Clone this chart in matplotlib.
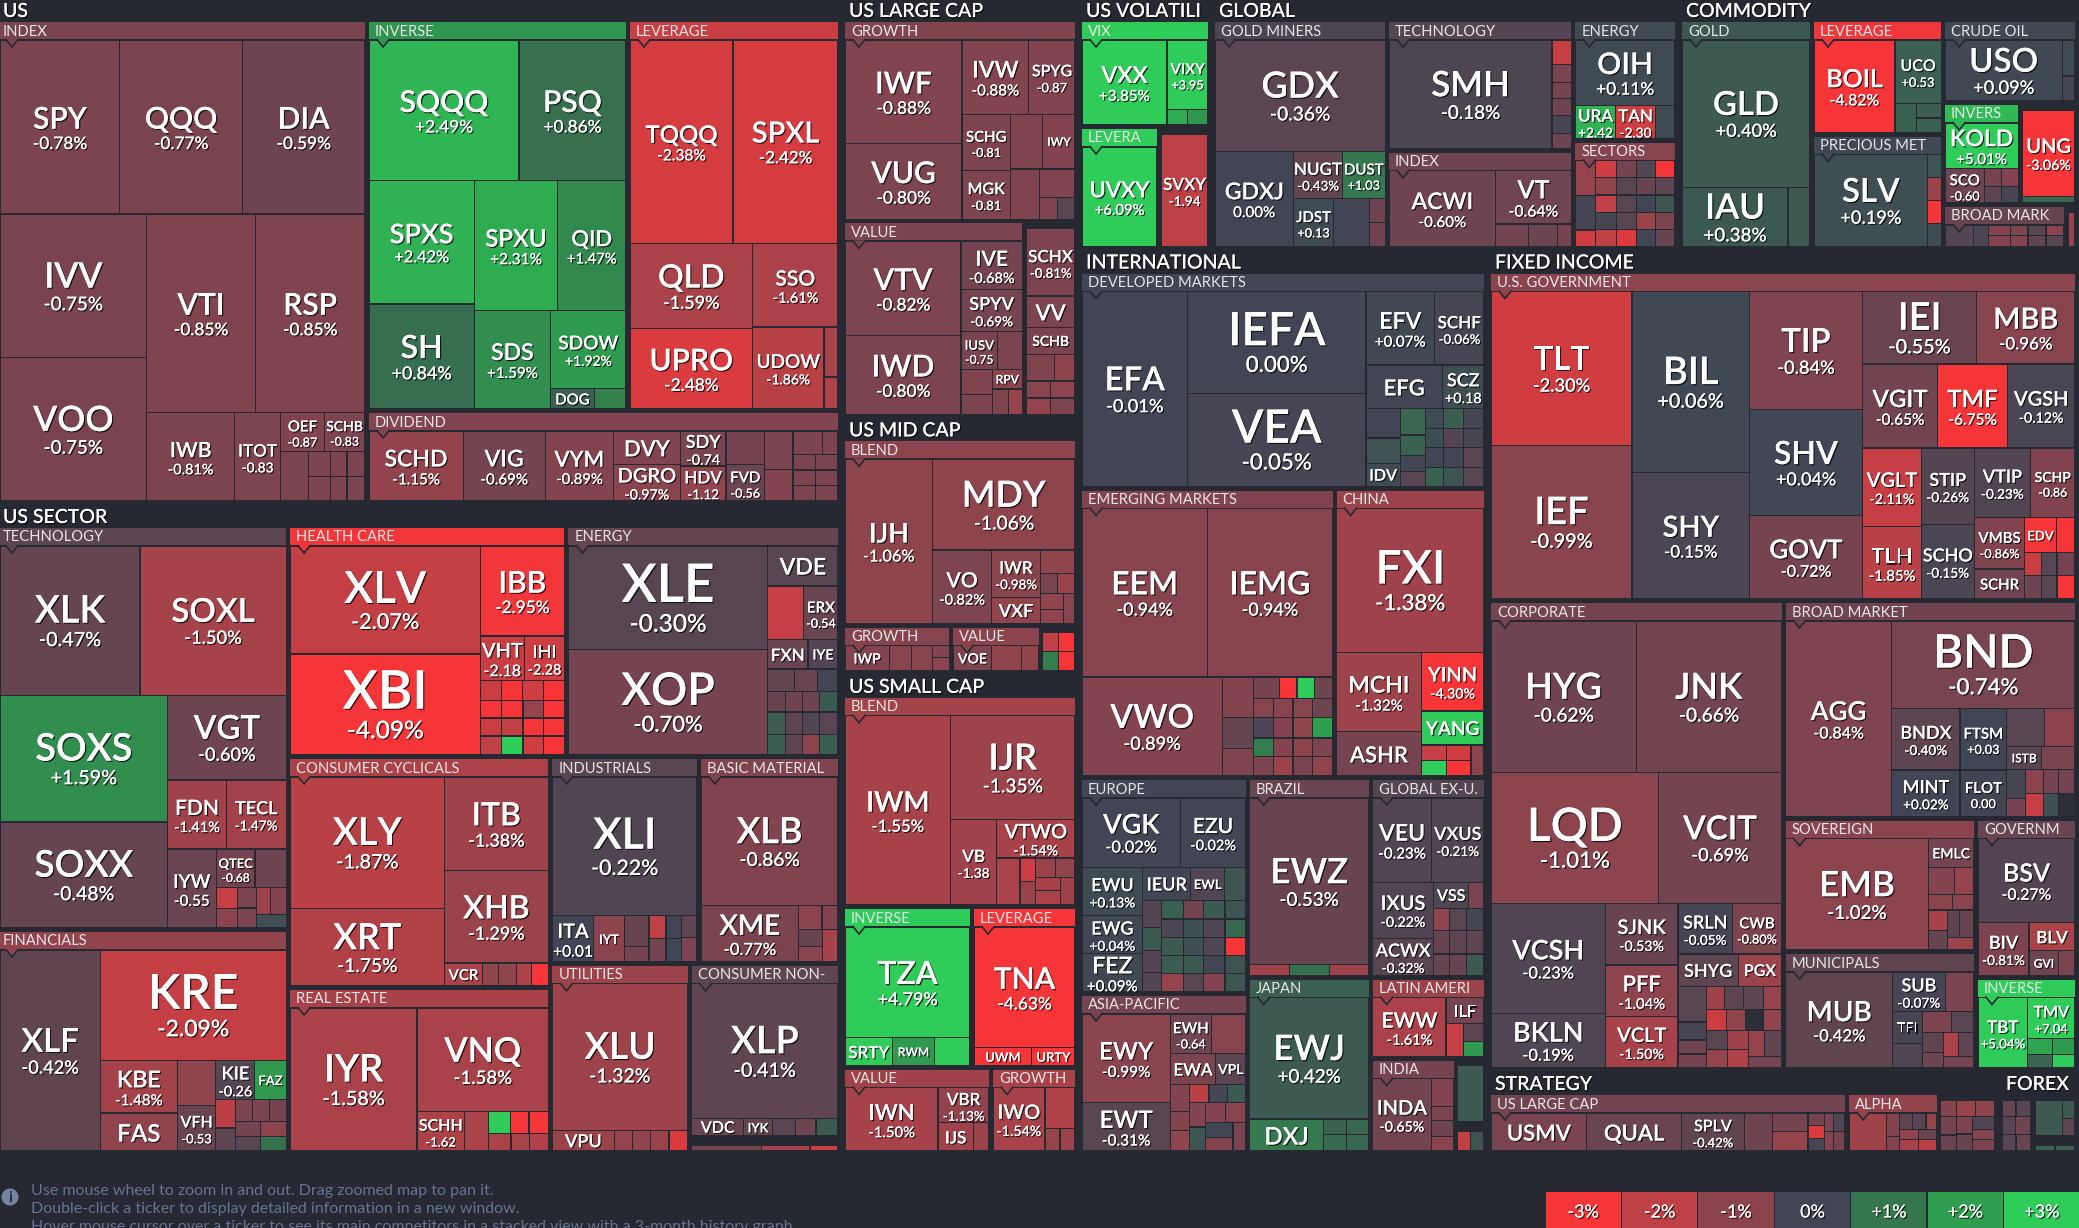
import matplotlib
matplotlib.use('Agg')
import matplotlib.pyplot as plt
import matplotlib.patheffects as pe
from matplotlib.patches import Rectangle, Polygon, Circle
import numpy as np

nan = float('nan')

# ---- US ----
us_index_tickers = ['SPY','QQQ','DIA','IVV','VOO','VTI','RSP','IWB','ITOT','OEF','SCHB','','','','','','','']
us_index_changes = [-.78,-.77,-.59,-.75,-.75,-.85,-.85,-.81,-.83,-.87,-.83,-.8,-.8,-.8,-.8,-.8,-.8,-.8]
us_index_sizes = [209,214,214,211,211,216,218,78,41,17,16,14,5.5,5.5,4,4.5,4,4.5]
us_index_strips = 'r3 c2 r2 c1 c1 r2 c1 c2 r2 r2'

us_inverse_tickers = ['SQQQ','PSQ','SPXS','SH','SPXU','QID','SDS','SDOW','DOG','']
us_inverse_changes = [2.49,.86,2.42,.84,2.31,1.47,1.59,1.92,.55,1.3]
us_inverse_sizes = [210,150,129,110,107,88,75,59,8.8,6.4]
us_inverse_strips = 'r2 c2 r2 c1 r1 r2'

us_leverage_tickers = ['TQQQ','SPXL','QLD','UPRO','SSO','UDOW','','']
us_leverage_changes = [-2.38,-2.42,-1.59,-2.48,-1.61,-1.86,-1.5,-1.7]
us_leverage_sizes = [208,212,104,98,71,58,7,4.5]
us_leverage_strips = 'r2 c2 r1 c1 r1 r1'

us_dividend_tickers = ['SCHD','VIG','VYM','DVY','DGRO','SDY','HDV','','FVD','','','','','','','','','','']
us_dividend_changes = [-1.15,-.69,-.89,-.9,-.97,-.74,-1.12,-.7,-.56,-.8,-.9,-.8,-.8,-.8,-.8,-.8,-.8,-.8,-.8]
us_dividend_sizes = [66,57.5,48,22.4,24.4,16,16,13,14,11,9,7,3.6,3.5,3.5,3.5,3.5,3.5,3.5]
us_dividend_strips = 'c1 c1 c1 c2 c2 c2 c2 r2 r2 r2 r2'

# ---- US SECTOR ----
tech_tickers = ['XLK','SOXL','SOXS','SOXX','VGT','FDN','TECL','IYW','QTEC','','','','','','','','']
tech_changes = [-.47,-1.5,1.59,-.48,-.6,-1.41,-1.47,-.55,-.68,-.6,-2.1,-1.0,-.8,-.8,-1.3,-.9,.2]
tech_sizes = [207,216,211,176,99.6,40,41,38,15,12,4.4,4,3.8,3.8,3.8,4,4]
tech_strips = 'r2 c2 r1 r2 c1 r2 c2 c2 r2 r1'

fin_tickers = ['XLF','KRE','KBE','FAS','','VFH','KIE','FAZ','','','','','','','','','']
fin_changes = [-.42,-2.09,-1.48,-1.1,-1.1,-.53,-.26,1.9,-1.9,-.4,-.8,-.8,-.7,-.7,-1.0,-.3,.9]
fin_sizes = [200,204,40,29,17,17.4,15,12,5.5,4.4,3.7,3.7,3.7,3.9,3.9,3.6,3.6]
fin_strips = 'c1 r1 c2 c2 r2 c2 r3 r2 r2'

health_tickers = ['XLV','XBI','IBB','VHT','IHI','','','','','','','','','','','','','','','','']
health_changes = [-2.07,-4.09,-2.95,-2.18,-2.28,-2.2,-3,-2.3,-3.2,-3.2,-3,-1.2,-3.2,-2.2,-2,-3,-3,-2,3.5,-2.3,-3.2]
health_sizes = [203,190,75,19.4,17.6,4.2,4.2,4,4.2,3.7,3.7,3.5,3.7,3.8,3.8,3.6,3.8,4,4,3.8,4]
health_strips = 'c2 r1 r2 r4 r4 r4 r4'

energy_tickers = ['XLE','XOP','VDE','','ERX','FXN','IYE','','','','','','','','','','','','','','','']
energy_changes = [-.3,-.7,-.3,-2.1,-.54,-.55,-.25,-.45,-.55,0,-.5,-.6,-.6,.4,.45,-.4,-.2,-.3,.5,-.4,-1.0,.5]
energy_sizes = [202,205,27.5,19,18,11.5,8.6,5.9,5,4.4,3.6,3.4,3.4,3.8,3.9,3.7,3.7,4.1,3.6,3.4,3.4,3.8]
energy_strips = 'c2 r1 r2 r2 r3 r4 r4 r4'

cyc_tickers = ['XLY','XRT','ITB','XHB','VCR','','','','']
cyc_changes = [-1.87,-1.75,-1.38,-1.29,-1.6,-1.1,-1.1,-1.7,-3]
cyc_sizes = [202,119,97,96,8.7,3.6,4.1,3.6,3.8]
cyc_strips = 'c2 r1 r1 r5'

estate_tickers = ['IYR','VNQ','SCHH','','','','','','','']
estate_changes = [-1.58,-1.58,-1.62,-1.6,3.5,-3,-3,-1.6,-1.6,-1.7]
estate_sizes = [181,136,18.5,9.4,4.8,4,4.2,4,3.2,3.4]
estate_strips = 'c1 r1 c1 c1 r3 r3'

ind_tickers = ['XLI','ITA','IYT','','','','','','','','']
ind_changes = [-.22,.01,-1.0,-.5,-.7,-2.0,-.7,0,0,-.4,-.8]
ind_sizes = [198,18.7,13.9,7.4,3.8,3.9,3.9,3.5,3.5,3.3,3.7]
ind_strips = 'r1 c1 c1 c2 c2 c2 c2'

mat_tickers = ['XLB','XME','','','','','']
mat_changes = [-.86,-.77,-1.0,-.9,-.5,-1.0,-1.5]
mat_sizes = [175,55,5.5,3.8,4.2,3.6,5]
mat_strips = 'r1 c1 r2 c2 c1'

util_tickers = ['XLU','VPU','','','','']
util_changes = [-1.32,-1.3,-1.2,-1.1,-1.3,-2.5]
util_sizes = [197,12.6,3.8,3.6,3.8,3.8]
util_strips = 'r1 r5'

staples_tickers = ['XLP','VDC','IYK','','','']
staples_changes = [-.41,-.5,-.45,-.3,-.6,.4]
staples_sizes = [196,9,4.9,3.96,3.6,3.8]
staples_strips = 'r1 r5'

comm_tickers = ['','','']
comm_changes = [-.7,-1.5,-2.2]
comm_sizes = [4.5,3.1,1.8]
comm_strips = 'r3'

# ---- US LARGE CAP ----
lg_growth_tickers = ['IWF','VUG','IVW','SPYG','SCHG','MGK','','IWY','','','','']
lg_growth_changes = [-.88,-.8,-.88,-.87,-.81,-.81,-.85,-.9,-.85,-.85,-.85,-.3]
lg_growth_sizes = [120,88,49,34,26.9,23.5,17.6,17.6,14.8,10,3.8,3.8]
lg_growth_strips = 'c2 r2 c2 r2 c1 r1 r2'

lg_value_tickers = ['VTV','IWD','IVE','SPYV','IUSV','','','','RPV','','']
lg_value_changes = [-.82,-.8,-.68,-.69,-.75,-.8,-.85,-.8,-1.0,-.85,-1.2]
lg_value_sizes = [108,91,29,25.4,13.7,9.3,7.7,6.2,5.9,4.2,3.4]
lg_value_strips = 'c2 r1 r1 r2 c2 r1 r2'

lg_other_tickers = ['SCHX','VV','SCHB','','','','','','']
lg_other_changes = [-.81,-.8,-.8,-.85,-1.0,-.95,-1.05,-1.2,-.85]
lg_other_sizes = [32,15,12.6,7.3,5.4,4,4,3.9,3.9]
lg_other_strips = 'r1 r1 r1 r2 r2 r2'

# ---- US MID CAP ----
mid_blend_tickers = ['IJH','MDY','VO','IWR','VXF','','','','','','']
mid_blend_changes = [-1.06,-1.06,-.82,-.98,-1.1,-1.1,-.75,-1.25,-1.1,-1.1,-.95]
mid_blend_sizes = [143,128,43,23,13,8,3.4,3.4,3.7,3.4,3.4]
mid_blend_strips = 'c1 r1 c1 c2 r1 r2 c2 c1'

mid_growth_tickers = ['IWP','','','','']
mid_growth_changes = [-.9,-.95,-.95,-.9,-1.0]
mid_growth_sizes = [10.6,5.3,5,1.9,2.2]
mid_growth_strips = 'c1 c1 c1 r1 r1'

mid_value_tickers = ['VOE','','']
mid_value_changes = [-.85,-1.1,-1.15]
mid_value_sizes = [9.5,7.3,4.3]
mid_value_strips = 'c1 c1 c1'

mid_other_tickers = ['','','','']
mid_other_changes = [-2.0,-3.0,1.2,-3.0]
mid_other_sizes = [3,3,3,3]
mid_other_strips = 'r2 r2'

# ---- US SMALL CAP ----
sm_blend_tickers = ['IWM','IJR','VB','VTWO','','','','','','','','']
sm_blend_changes = [-1.55,-1.35,-1.38,-1.54,-1.6,-2.3,-1.3,-1.3,-1.1,-1.5,-1.6,-1.4]
sm_blend_sizes = [197,127,39,30,10.8,3.5,3.6,3.8,3.8,3.4,3.6,3.9]
sm_blend_strips = 'c1 r1 c1 r1 c1 c2 r2 c2 c1'

sm_inverse_tickers = ['TZA','SRTY','RWM','']
sm_inverse_changes = [4.79,3.2,1.9,3.4]
sm_inverse_sizes = [137.5,13,11.5,9.8]
sm_inverse_strips = 'r1 r3'

sm_leverage_tickers = ['TNA','UWM','URTY']
sm_leverage_changes = [-4.63,-3.2,-3.1]
sm_leverage_sizes = [123,10.3,7.7]
sm_leverage_strips = 'r1 r2'

sm_value_tickers = ['IWN','VBR','IJS','']
sm_value_changes = [-1.5,-1.13,-1.4,-1.3]
sm_value_sizes = [59,18,10,4.4]
sm_value_strips = 'c1 r1 c1 c1'

sm_growth_tickers = ['IWO','','','']
sm_growth_changes = [-1.54,-1.7,-1.2,-1.3]
sm_growth_sizes = [33,12.4,3.4,3.4]
sm_growth_strips = 'c1 r1 r2'

# ---- US VOLATILI ----
vix_tickers = ['VXX','VIXY','','']
vix_changes = [3.85,3.95,2.3,1.8]
vix_sizes = [71,28,3.2,3.2]
vix_strips = 'c1 r1 r2'

# ---- GLOBAL ----
miners_tickers = ['GDX','GDXJ','NUGT','DUST','JDST','','','']
miners_changes = [-.36,0,-.43,1.03,.13,-.02,-.6,-.6]
miners_sizes = [187,74,23,20,19,17,3.7,3.7]
miners_strips = 'r1 c1 r2 c1 c1 r1 r1'

gl_tech_tickers = ['SMH','','','','','','']
gl_tech_changes = [-.18,-2.1,-.75,-.7,-.6,-.05,-.6]
gl_tech_sizes = [176,4.7,3.4,3.2,3.2,3.4,3]
gl_tech_strips = 'c1 r1 r1 r1 r1 r1 r1'

gl_index_tickers = ['ACWI','VT','','','']
gl_index_changes = [-.6,-.64,-.65,-.55,-.7]
gl_index_sizes = [80,40,7.4,6.4,3.2]
gl_index_strips = 'c1 r1 r3'

gl_energy_tickers = ['OIH','URA','TAN','']
gl_energy_changes = [.11,2.42,-2.3,.1]
gl_energy_sizes = [63,13,13,6.3]
gl_energy_strips = 'r1 r3'

gl_sectors_tickers = [''] * 23
gl_sectors_changes = [-1.2,-.1,-2.3,-2.3,-.7,-.2,-3,-1.1,-.3,-.5,-.4,-2,-.3,0,.3,-.1,-.3,-1.3,-.8,-2,-2.5,0,-.5]
gl_sectors_sizes = [7.5,7.3,3.5,3.8,3.6,3.4,3.6,3.8,3.6,3.4,3.6,3.8,3.6,3.4,3.6,3.8,3.6,3.4,3.6,3.8,3.6,3.4,3.6]
gl_sectors_strips = 'c3 r4 r4 r4 r4 r4'

# ---- COMMODITY ----
gold_tickers = ['GLD','IAU','']
gold_changes = [.4,.38,.4]
gold_sizes = [188,62.5,13]
gold_strips = 'r1 c1 c1'

cm_lev_tickers = ['BOIL','UCO','','','']
cm_lev_changes = [-4.82,.53,.55,.5,.55]
cm_lev_sizes = [74,29,6.3,3.5,3.5]
cm_lev_strips = 'c1 r1 c1 r1 r1'

metals_tickers = ['SLV','','','','']
metals_changes = [.19,.25,-1.3,-3.0,.1]
metals_sizes = [104,3.1,3.1,3.1,3.1]
metals_strips = 'c1 r1 r1 r1 r1'

crude_tickers = ['USO','','']
crude_changes = [.09,.15,-.1]
crude_sizes = [71,4.6,3.2]
crude_strips = 'c1 r1 r1'

cm_inv_tickers = ['KOLD','SCO','','','','']
cm_inv_changes = [5.01,-.6,-.7,-.9,-.4,-.1]
cm_inv_sizes = [32,13,2.9,2.9,2.7,2.7]
cm_inv_strips = 'r1 c1 r2 r2'

ung_tickers = ['UNG','']
ung_changes = [-3.06,.7]
ung_sizes = [45.6,3.4]
ung_strips = 'r1 r1'

broad_cm_tickers = [''] * 10
broad_cm_changes = [-.25,-.15,-.9,-.8,-.3,-1.0,-.9,-.9,-.4,-.3]
broad_cm_sizes = [5,2.8,1.9,1.6,1.6,1.6,1.9,1.6,1.6,1.6]
broad_cm_strips = 'c1 c1 r4 r4'

sliver_tickers = ['']
sliver_changes = [-1.2]
sliver_sizes = [1]
sliver_strips = 'r1'

# ---- INTERNATIONAL ----
dev_tickers = ['EFA','IEFA','VEA','EFV','SCHF','EFG','SCZ','','','IDV'] + [''] * 16
dev_changes = [-.01,0,-.05,.07,-.06,0,.18,-.02,.25,.1,.7,.6,0,-.3,.15,.5,-.1,.15,-.25,-.05,0,0,-.3,.6,.3,-.3]
dev_sizes = [203.5,179.5,165,50,36,33,18,10,8.8,7.8,6.5,5,4,3.7,3.6,4,4,3.4,3.8,3.8,3.6,4,4,3.4,3.8,3.8]
dev_strips = 'c1 c2 r2 r2 c3 c4 r3 r3 r3 r3'

em_tickers = ['EEM','IEMG','VWO'] + [''] * 23
em_changes = [-.94,-.94,-.89,-.9,-.5,-.85,-.7,-3,3.3,-.6,-.95,-.95,-.95,-.6,-.15,-.9,-1.1,2,1.2,-.9,-1.0,-.8,-.8,-1.3,-.75,-1.1]
em_sizes = [207.5,207.5,136.4,12.4,9.6,8.4,5.5,3.8,3.8,3.8,3.6,3.6,3.6,3.6,4,4,4,4,3.6,3.6,3.6,3.6,3.8,3.8,3.8,3.8]
em_strips = 'r2 c1 c3 r4 r4 r4 r4 r4'

china_tickers = ['FXI','MCHI','ASHR','YINN','YANG','','','','','']
china_changes = [-1.38,-1.32,-.7,-4.3,3.3,-2.1,3.2,-2.3,-3.1,-1.0]
china_sizes = [209,66,37,36,21,3.9,3.9,3.7,3.7,4]
china_strips = 'r1 c2 r1 r1 c2 c2 c1'

europe_tickers = ['VGK','EZU','EWU','EWG','FEZ','IEUR','EWL',''] + [''] * 24
europe_changes = [-.02,-.02,.13,.04,.09,0,-.2,.35,-.25,.4,-.25,-.25,.55,-.65,.4,.3,-.15,.2,-.2,.7,.4,.2,-.2,-3.0,.45,.4,-.02,.3,-1.2,-.3,-.9,.35]
europe_sizes = [64.7,43,28,22,22,15.4,11,6.7,4.9,4.1,4,3.6] + [3.8,3.4,3.8,3.6] * 5
europe_strips = 'r2 c3 r3 c4 r4 r4 r4 r4 r4'

asia_tickers = ['EWY','EWT','EWH','','EWA','VPL'] + [''] * 13
asia_changes = [-.99,-.31,-.64,-.95,-.8,-.35,-.9,-.9,-1.1,-1.9,-.05,.4,-.9,.35,-.9,-.95,.05,-.9,-.8]
asia_sizes = [75,41,15.6,13,13.8,9,4.9,3.6,3.8,3.4,3.2,3.2,3.7,3.7,3.8,3.8,3.9,3.6,3.5]
asia_strips = 'c2 r2 r2 c3 r3 c2 r2 c2 c1'

brazil_tickers = ['EWZ','','','']
brazil_changes = [-.53,-1.4,.9,-1.4]
brazil_sizes = [199,4.3,4.3,4.2]
brazil_strips = 'r1 r3'

japan_tickers = ['EWJ','DXJ','','','','']
japan_changes = [.42,1.1,.6,.75,.7,.7]
japan_sizes = [143.5,23.4,3.7,3.8,3.4,3.6]
japan_strips = 'r1 c1 c2 c2'

exus_tickers = ['VEU','VXUS','IXUS','ACWX','VSS',''] + [''] * 9
exus_changes = [-.23,-.21,-.22,-.32,-.2,-.75,-1.1,-.3,-.1,-.5,-.4,-.4,-.5,-.5,.4]
exus_sizes = [48,43,33,22,9,3.9,3.5,3.7,3.7,3.7,3.9,3.9,3.4,3.6,3.6]
exus_strips = 'r2 c2 r2 r3 r3 r3'

latin_tickers = ['EWW','ILF','','','']
latin_changes = [-1.61,-.7,-2.1,-.4,1.9]
latin_sizes = [41.5,9.5,5.6,3.4,3]
latin_strips = 'c1 r1 c1 r1 r1'

india_tickers = ['INDA','','','','']
india_changes = [-.65,-.9,-.8,-.6,-1.0]
india_sizes = [39.6,5.7,3,3.3,3]
india_strips = 'c1 r1 r1 r1 r1'

intl_a_tickers = ['']
intl_a_changes = [.4]
intl_a_sizes = [1]
intl_a_strips = 'r1'

intl_b_tickers = ['','']
intl_b_changes = [-2,.3]
intl_b_sizes = [1,1]
intl_b_strips = 'r2'

# ---- FIXED INCOME ----
gov_tickers = ['TLT','IEF','BIL','SHY','TIP','SHV','GOVT','IEI','MBB','VGIT','TMF','VGSH','VGLT','TLH','STIP','SCHO','VTIP','SCHP','VMBS','SCHR','EDV'] + [''] * 7
gov_changes = [-2.3,-.99,.06,-.15,-.84,.04,-.72,-.55,-.96,-.65,-6.75,-.12,-2.11,-1.85,-.26,-.15,-.23,-.86,-.86,-.6,-4,-3.5,-2.2,-.3,-.7,-.6,-.3,-3.5]
gov_sizes = [214,214,210,146.5,132,118,93.5,81.6,70.3,62,58,56,45.5,42,40,39,38.8,30.6,25.5,15,10.9,6.5,3.9,3.5,4.1,3.9,3.5,4.1]
gov_strips = 'c2 c2 c3 r2 r3 c2 c2 r2 c2 r2 r3 r3'

corp_tickers = ['HYG','JNK','LQD','VCIT','VCSH','BKLN','SJNK','PFF','VCLT','SRLN','CWB','SHYG','PGX'] + [''] * 19
corp_changes = [-.62,-.66,-1.01,-.69,-.23,-.19,-.53,-1.04,-1.5,-.05,-.8,-.4,-1.3,-.3,-.1,-.6,-.7,-1.4,-.4,-.4,-1.2,-2.2,-1.1,nan,-1.1,-.3,-1.2,-1.4,-1.7,-1.2,-.4,-.7]
corp_sizes = [217,217,217,159,124,61.6,44,37,36.9,27,24.5,19.5,14,9.8,5,3.9,3.9,4.1,4.4,4.4,4.1,4.2,3.8,3.6,3.8,4,4,3.9,3.9,4.1,4.4,3.6]
corp_strips = 'r2 r2 c2 c3 r2 r2 c4 r4 r4 c2 c2 r2 r1'

bond_tickers = ['AGG','BND','BNDX','MINT','FTSM','FLOT','','','ISTB'] + [''] * 9
bond_changes = [-.84,-.74,-.4,.02,.03,0,-.3,-1,-.3,-.8,-.1,-.7,-1,-.7,-.7,-2.1,.2,nan]
bond_sizes = [205,157.5,41.5,31.5,28.5,21.6,14,11.5,8,7.8,5.3,3.4,4.1,3.6,3.8,4.1,3.6,3.8]
bond_strips = 'c1 r1 c2 c2 r2 r2 c2 r3 r3'

sov_tickers = ['EMB','EMLC'] + [''] * 9
sov_changes = [-1.02,-.7,-.9,-1.2,-1,-1,-1.5,-.5,-.4,-.5,-1.3]
sov_sizes = [157,13,6.8,5.2,3.6,3.3,3.8,3.6,3.4,3.9,3.3]
sov_strips = 'c1 r1 r2 r2 c2 r2 r1'

muni_tickers = ['MUB','SUB','','TFI'] + [''] * 8
muni_changes = [-.42,-.07,-.8,-.1,-.2,-.8,-.3,-.4,-.6,-1.6,-.4,-.7]
muni_sizes = [100,20,11,9.3,7,6,4.6,4.2,3.1,3.6,3.6,3.4]
muni_strips = 'c1 r2 c2 r2 c2 r2 r1'

govm_tickers = ['BSV','BIV','BLV','GVI','']
govm_changes = [-.27,-.81,-1.6,-.6,-.8]
govm_sizes = [81,27,13,7.3,4]
govm_strips = 'r1 c1 r1 r2'

fi_inv_tickers = ['TBT','TMV','','','','']
fi_inv_changes = [5.04,7.04,2.1,1.9,.65,3.4]
fi_inv_sizes = [34,19,4,3.5,3.2,2.9]
fi_inv_strips = 'c1 r1 r2 r2'

# ---- STRATEGY ----
st_large_tickers = ['USMV','QUAL','SPLV'] + [''] * 10
st_large_changes = [-.75,-.55,-.42,-.6,-.7,-1.2,-.7,-2.5,-.1,-.8,-.9,-.2,-.7]
st_large_sizes = [34.4,34,22.6,10,6.3,6.6,1.9,2,2,1.6,1.7,2,2.1]
st_large_strips = 'c1 c1 c1 c1 c2 c3 c2 c2'

st_alpha_tickers = [''] * 10
st_alpha_changes = [-1.4,-.9,-.9,-.4,-.3,-1.2,-1.1,-.5,-1.5,-1.9]
st_alpha_sizes = [13,2.7,1.7,2,2,1.6,1.7,1.7,1.9,1.9]
st_alpha_strips = 'c1 c2 r3 r2 r2'

st_other_tickers = [''] * 10
st_other_changes = [-.9,-.7,-.55,-1.2,-1.0,-.8,-.5,-.2,-.9,-.8]
st_other_sizes = [2.4,2.6,2.3,2.9,2.9,2.7,2.6,2.7,2.1,2.3]
st_other_strips = 'c3 r2 c2 r1 r1 r1'

# ---- FOREX ----
fx_a_tickers = [''] * 6
fx_a_changes = [-.5,-.3,-.3,-.6,-.3,-.5]
fx_a_sizes = [1.95,2.1,2.2,2.4,1.95,2.1]
fx_a_strips = 'r2 r2 r2'

fx_b_tickers = ['','','']
fx_b_changes = [.4,.4,-.4]
fx_b_sizes = [9.1,2.2,2.1]
fx_b_strips = 'c1 r1 r1'

fx_c_tickers = ['','']
fx_c_changes = [.55,.55]
fx_c_sizes = [1,1]
fx_c_strips = 'r2'

# tickers that show no number at all, and ones that show the number without %
label_only = {'DOG','IWY','RPV','VV','VXF','IWP','VOE','SRTY','RWM','UWM','URTY','IJS','FAS','FAZ','VCR','VPU','VDC','IYK','IYT',
              'VDE','FXN','IYE','EFG','IDV','ASHR','YANG','IEUR','EWL','EWA','VPL','ILF','VSS','DXJ','SCHR','EDV','ISTB',
              'SHYG','PGX','EMLC','GVI','BLV','TFI','USMV','QUAL','DVY'}
bare_number = {'ITOT','OEF','SCHB','SDY','HDV','FVD','QTEC','IYW','VFH','KIE','VHT','IHI','ERX','SCHH','ITA','SPYG','SCHG',
               'MGK','IUSV','VB','VIXY','SVXY','JDST','DUST','URA','TAN','UCO','SCO','EWH','SCZ','SCHP','FTSM','FLOT','TMV'}

# legend
legend_values = [-3,-2,-1,0,1,2,3]
legend_labels = ['-3%','-2%','-1%','0%','+1%','+2%','+3%']

help_lines = ['Use mouse wheel to zoom in and out. Drag zoomed map to pan it.',
              'Double-click a ticker to display detailed information in a new window.',
              'Hover mouse cursor over a ticker to see its main competitors in a stacked view with a 3-month history graph.']

# ---- styles ----
bg = '#262931'
scale_x = [-3,-2,-1,0,1,2,3]
scale_rgb = ['#f63538','#bf4045','#8b444e','#414554','#35764e','#2f9e4f','#30cc5a']
no_data = '#2c2f38'

ticker_px = {
 'SPY':30,'QQQ':30,'DIA':30,'IVV':35,'VOO':35,'VTI':30,'RSP':30,'IWB':21,'ITOT':17,'OEF':15,'SCHB':14,
 'SQQQ':30,'PSQ':30,'SPXS':27,'SPXU':24,'QID':22,'SH':32,'SDS':23,'SDOW':19,'DOG':15,
 'TQQQ':24,'SPXL':29,'QLD':32,'SSO':21,'UPRO':30,'UDOW':19,
 'SCHD':23,'VIG':23,'VYM':22,'DVY':22,'DGRO':20,'SDY':18,'HDV':17,'FVD':15,
 'XLK':38,'SOXL':33,'SOXS':38,'SOXX':37,'VGT':33,'FDN':21,'TECL':18,'IYW':19,'QTEC':13,
 'XLF':33,'KRE':48,'KBE':23,'FAS':24,'VFH':16,'KIE':18,'FAZ':13,
 'XLV':44,'XBI':53,'IBB':30,'VHT':20,'IHI':18,
 'XLE':53,'XOP':45,'VDE':23,'ERX':15,'FXN':17,'IYE':14,
 'XLY':38,'XRT':36,'ITB':32,'XHB':32,'VCR':15,'IYR':38,'VNQ':34,'SCHH':16,
 'XLI':43,'ITA':20,'IYT':13,'XLB':36,'XME':28,'XLU':37,'VPU':18,'XLP':38,'VDC':16,'IYK':13,
 'IWF':30,'VUG':30,'IVW':23,'SPYG':16,'SCHG':15,'MGK':16,'IWY':12,
 'VTV':30,'IWD':30,'IVE':21,'SPYV':18,'IUSV':13,'RPV':12,'SCHX':17,'VV':22,
 'IJH':27,'MDY':36,'VO':21,'IWR':17,'VXF':18,'IWP':14,'VOE':14,
 'IWM':28,'IJR':36,'VB':17,'VTWO':20,'TZA':32,'SRTY':17,'RWM':12,'TNA':30,'UWM':13,'URTY':13,
 'IWN':22,'VBR':17,'IJS':17,'IWO':20,
 'VXX':23,'VIXY':15,'UVXY':22,'SVXY':17,
 'GDX':36,'GDXJ':23,'NUGT':17,'DUST':15,'JDST':15,'SMH':35,'ACWI':23,'VT':25,
 'OIH':30,'URA':17,'TAN':17,'GLD':33,'IAU':35,'BOIL':25,'UCO':16,'SLV':33,'USO':33,'KOLD':23,'SCO':15,'UNG':20,
 'EFA':33,'IEFA':46,'VEA':46,'EFV':23,'SCHF':17,'EFG':22,'SCZ':18,'IDV':16,
 'EEM':32,'IEMG':32,'VWO':33,'FXI':46,'MCHI':23,'YINN':20,'YANG':19,'ASHR':22,
 'VGK':27,'EZU':21,'EWU':18,'IEUR':18,'EWL':13,'EWG':18,'FEZ':23,
 'EWY':24,'EWT':24,'EWH':15,'EWA':17,'VPL':14,'EWZ':35,'EWJ':35,'DXJ':24,
 'VEU':23,'VXUS':18,'IXUS':20,'VSS':16,'ACWX':18,'EWW':21,'ILF':17,'INDA':20,
 'TLT':33,'BIL':38,'TIP':33,'IEI':38,'MBB':29,'VGIT':24,'TMF':24,'VGSH':20,'SHV':32,'GOVT':26,'VGLT':20,'TLH':22,
 'STIP':18,'SCHO':18,'VTIP':18,'SCHP':14,'VMBS':15,'EDV':13,'SCHR':15,'IEF':38,'SHY':29,
 'HYG':36,'JNK':36,'LQD':46,'VCIT':33,'VCSH':27,'BKLN':27,'SJNK':20,'PFF':22,'VCLT':20,'SRLN':18,'CWB':15,'SHYG':18,'PGX':16,
 'AGG':26,'BND':46,'BNDX':18,'FTSM':15,'MINT':18,'FLOT':15,'ISTB':12,
 'EMB':35,'EMLC':14,'BSV':25,'BIV':18,'BLV':17,'GVI':12,'MUB':28,'SUB':18,'TFI':14,'TBT':17,'TMV':16,
 'USMV':22,'QUAL':22,'SPLV':16}

plt.rcParams['font.family'] = ['Lato', 'DejaVu Sans']


def pt(px):
    return px * 0.72


def to_rgb(hex_color):
    return np.array(matplotlib.colors.to_rgb(hex_color))


def change_color(c):
    if np.isnan(c):
        return no_data
    c = min(3, max(-3, c))
    rgbs = np.array([to_rgb(h) for h in scale_rgb])
    return tuple(np.interp(c, scale_x, rgbs[:, k]) for k in range(3))


# strips: r3 = next 3 items go in a row across the top, c2 = next 2 stacked in a column at the left
def split(x, y, w, h, sizes, strips):
    rects = []
    i = 0
    remaining = float(sum(sizes))
    for s in strips.split():
        n = int(s[1:])
        part = sizes[i:i+n]
        total = float(sum(part))
        if s[0] == 'r':
            th = h * total / remaining
            xx = x
            for v in part:
                rects.append((xx, y, w * v / total, th))
                xx += w * v / total
            y += th
            h -= th
        else:
            tw = w * total / remaining
            yy = y
            for v in part:
                rects.append((x, yy, tw, h * v / total))
                yy += h * v / total
            x += tw
            w -= tw
        remaining -= total
        i += n
    if i != len(sizes):
        raise ValueError('strips do not fit sizes ' + strips)
    return rects


def group(name, tickers, changes, sizes, strips, hide=()):
    if not (len(tickers) == len(changes) == len(sizes)):
        raise ValueError('bad lengths %s %d %d %d' % (name, len(tickers), len(changes), len(sizes)))
    return dict(name=name, tickers=tickers, changes=changes, sizes=sizes, strips=strips, hide=hide)


fig = plt.figure(figsize=(20.79, 12.28), dpi=100, facecolor=bg)
ax = fig.add_axes([0, 0, 1, 1])
ax.set_xlim(0, 2079)
ax.set_ylim(1228, 0)
ax.axis('off')

shadow = [pe.withSimplePatchShadow(offset=(0.9, -0.9), shadow_rgbFace='#000000', alpha=0.75), pe.Normal()]


def draw_cell(x, y, w, h, ticker, c, hide):
    ax.add_patch(Rectangle((x + 0.6, y + 0.6), w - 1.2, h - 1.2, fc=change_color(c), ec='none', zorder=2))
    if not ticker:
        return
    t_px = ticker_px.get(ticker, max(10, 0.24 * min(w, h)))
    cx = x + w / 2
    cy = y + h / 2
    if ticker in label_only or ticker in hide:
        ax.text(cx, cy, ticker, color='white', fontsize=pt(t_px), fontweight=600, ha='center', va='center_baseline',
                zorder=3, path_effects=shadow)
        return
    label = '%+.2f' % c if abs(c) >= 0.005 else '0.00'
    if ticker not in bare_number:
        label += '%'
    p_px = 8 + 0.31 * t_px
    if ticker in bare_number:
        p_px = max(p_px, t_px * 0.8)
    p_px = min(p_px, 0.95 * w / (0.5 * len(label)))
    d = 0.41 * t_px + 0.76 * p_px
    off = 1 + 0.06 * t_px
    ax.text(cx, cy - d / 2 + off, ticker, color='white', fontsize=pt(t_px), fontweight=600, ha='center', va='center_baseline',
            zorder=3, path_effects=shadow)
    ax.text(cx, cy + d / 2 + off, label, color='white', fontsize=pt(p_px), fontweight=500, ha='center', va='center_baseline',
            zorder=3, path_effects=shadow)


def draw_group(rect, g):
    x, y, w, h = rect
    x += 2
    y += 2
    w -= 4
    h -= 4
    name = g['name']
    if name is None:
        # groups too small for a header just keep a bit of space on top
        y += 5
        h -= 5
    else:
        vals = [(c, s) for c, s in zip(g['changes'], g['sizes']) if not np.isnan(c)]
        avg = sum(c * s for c, s in vals) / sum(s for c, s in vals)
        col = change_color(avg)
        ax.add_patch(Rectangle((x, y), w, 17, fc=col, ec='none', zorder=2))
        pad = 3 if x < 1 else 6
        ax.text(x + pad, y + 8, name, color='#e6e6e6', fontsize=pt(14.7), ha='left', va='center_baseline', zorder=3)
        y += 18
        h -= 18
    for r, t, c in zip(split(x, y, w, h, g['sizes'], g['strips']), g['tickers'], g['changes']):
        draw_cell(r[0], r[1], r[2], r[3], t, c, g['hide'])
    if name is not None:
        nx = x + (12 if x < 1 else 14)
        ax.add_patch(Polygon([(nx - 6.5, y - 1), (nx, y + 7), (nx + 6.5, y - 1)], closed=False, fc=col, ec=bg, lw=1.2, zorder=4))


def draw_block(rect, title, sizes, strips, groups):
    x, y, w, h = rect
    ix = x + 1.5
    iy = y + 1.5 + 20
    iw = w - 3
    ih = h - 3 - 20
    ax.text(max(ix, 0) + (3 if ix < 1 else 6), y + 11.5, title, color='white', fontsize=pt(19.5), fontweight=500, ha='left', va='center_baseline',
            zorder=3, path_effects=shadow)
    for r, g in zip(split(ix, iy, iw, ih, sizes, strips), groups):
        draw_group(r, g)


blocks = [
 ('US', [1782,1020,829,435], 'c1 r2 r1', [
   group('INDEX', us_index_tickers, us_index_changes, us_index_sizes, us_index_strips),
   group('INVERSE', us_inverse_tickers, us_inverse_changes, us_inverse_sizes, us_inverse_strips),
   group('LEVERAGE', us_leverage_tickers, us_leverage_changes, us_leverage_sizes, us_leverage_strips),
   group('DIVIDEND', us_dividend_tickers, us_dividend_changes, us_dividend_sizes, us_dividend_strips)]),
 ('US SECTOR', [1172,647,643,632,606,433,307,292,263,262,22.6], 'c2 r2 c2 r2 c1 r1 r1', [
   group('TECHNOLOGY', tech_tickers, tech_changes, tech_sizes, tech_strips),
   group('FINANCIALS', fin_tickers, fin_changes, fin_sizes, fin_strips),
   group('HEALTH CARE', health_tickers, health_changes, health_sizes, health_strips),
   group('ENERGY', energy_tickers, energy_changes, energy_sizes, energy_strips),
   group('CONSUMER CYCLICALS', cyc_tickers, cyc_changes, cyc_sizes, cyc_strips),
   group('REAL ESTATE', estate_tickers, estate_changes, estate_sizes, estate_strips),
   group('INDUSTRIALS', ind_tickers, ind_changes, ind_sizes, ind_strips),
   group('BASIC MATERIAL', mat_tickers, mat_changes, mat_sizes, mat_strips),
   group('UTILITIES', util_tickers, util_changes, util_sizes, util_strips),
   group('CONSUMER NON-', staples_tickers, staples_changes, staples_sizes, staples_strips),
   group(None, comm_tickers, comm_changes, comm_sizes, comm_strips)]),
 ('US LARGE CAP', [471.5,353,103], 'r1 c1 c1', [
   group('GROWTH', lg_growth_tickers, lg_growth_changes, lg_growth_sizes, lg_growth_strips),
   group('VALUE', lg_value_tickers, lg_value_changes, lg_value_sizes, lg_value_strips),
   group(None, lg_other_tickers, lg_other_changes, lg_other_sizes, lg_other_strips, hide=('SCHB',))]),
 ('US MID CAP', [436,50.8,42,17.1], 'r1 c1 c1 c1', [
   group('BLEND', mid_blend_tickers, mid_blend_changes, mid_blend_sizes, mid_blend_strips),
   group('GROWTH', mid_growth_tickers, mid_growth_changes, mid_growth_sizes, mid_growth_strips),
   group('VALUE', mid_value_tickers, mid_value_changes, mid_value_sizes, mid_value_strips),
   group(None, mid_other_tickers, mid_other_changes, mid_other_sizes, mid_other_strips)]),
 ('US SMALL CAP', [494,207,168.5,126.5,73.5], 'r1 r2 r2', [
   group('BLEND', sm_blend_tickers, sm_blend_changes, sm_blend_sizes, sm_blend_strips),
   group('INVERSE', sm_inverse_tickers, sm_inverse_changes, sm_inverse_sizes, sm_inverse_strips),
   group('LEVERAGE', sm_leverage_tickers, sm_leverage_changes, sm_leverage_sizes, sm_leverage_strips),
   group('VALUE', sm_value_tickers, sm_value_changes, sm_value_sizes, sm_value_strips),
   group('GROWTH', sm_growth_tickers, sm_growth_changes, sm_growth_sizes, sm_growth_strips)]),
 ('US VOLATILI', [139,96,62], 'r1 r2', [
   group('VIX', vix_tickers, vix_changes, vix_sizes, vix_strips),
   group('LEVERA', ['UVXY'], [6.09], [1], 'r1'),
   group(None, ['SVXY'], [-1.94], [1], 'r1')]),
 ('GLOBAL', [398,244,182,125,112], 'c1 c2 c2', [
   group('GOLD MINERS', miners_tickers, miners_changes, miners_sizes, miners_strips),
   group('TECHNOLOGY', gl_tech_tickers, gl_tech_changes, gl_tech_sizes, gl_tech_strips),
   group('INDEX', gl_index_tickers, gl_index_changes, gl_index_sizes, gl_index_strips),
   group('ENERGY', gl_energy_tickers, gl_energy_changes, gl_energy_sizes, gl_energy_strips),
   group('SECTORS', gl_sectors_tickers, gl_sectors_changes, gl_sectors_sizes, gl_sectors_strips)]),
 ('COMMODITY', [301.6,150,149.3,111,78.5,58,53.5,4.8], 'c1 c2 r1 r2 r2', [
   group('GOLD', gold_tickers, gold_changes, gold_sizes, gold_strips),
   group('LEVERAGE', cm_lev_tickers, cm_lev_changes, cm_lev_sizes, cm_lev_strips),
   group('PRECIOUS MET', metals_tickers, metals_changes, metals_sizes, metals_strips),
   group('CRUDE OIL', crude_tickers, crude_changes, crude_sizes, crude_strips),
   group('INVERS', cm_inv_tickers, cm_inv_changes, cm_inv_sizes, cm_inv_strips),
   group(None, ung_tickers, ung_changes, ung_sizes, ung_strips),
   group('BROAD MARK', broad_cm_tickers, broad_cm_changes, broad_cm_sizes, broad_cm_strips),
   group(None, sliver_tickers, sliver_changes, sliver_sizes, sliver_strips)]),
 ('INTERNATIONAL', [881,737,438.5,362,266.6,245.4,230,215.9,93.6,80,19.9,8.8], 'r1 r2 c2 r2 c1 r1 c1 r1 r1', [
   group('DEVELOPED MARKETS', dev_tickers, dev_changes, dev_sizes, dev_strips),
   group('EMERGING MARKETS', em_tickers, em_changes, em_sizes, em_strips),
   group('CHINA', china_tickers, china_changes, china_sizes, china_strips),
   group('EUROPE', europe_tickers, europe_changes, europe_sizes, europe_strips),
   group('ASIA-PACIFIC', asia_tickers, asia_changes, asia_sizes, asia_strips),
   group('BRAZIL', brazil_tickers, brazil_changes, brazil_sizes, brazil_strips),
   group('GLOBAL EX-U.', exus_tickers, exus_changes, exus_sizes, exus_strips),
   group('JAPAN', japan_tickers, japan_changes, japan_sizes, japan_strips),
   group('LATIN AMERI', latin_tickers, latin_changes, latin_sizes, latin_strips),
   group('INDIA', india_tickers, india_changes, india_sizes, india_strips),
   group(None, intl_a_tickers, intl_a_changes, intl_a_sizes, intl_a_strips),
   group(None, intl_b_tickers, intl_b_changes, intl_b_sizes, intl_b_strips)]),
 ('FIXED INCOME', [1937.5,1381,639,256.6,227,160.4,93.4], 'r1 c1 r1 c2 c2', [
   group('U.S. GOVERNMENT', gov_tickers, gov_changes, gov_sizes, gov_strips),
   group('CORPORATE', corp_tickers, corp_changes, corp_sizes, corp_strips),
   group('BROAD MARKET', bond_tickers, bond_changes, bond_sizes, bond_strips),
   group('SOVEREIGN', sov_tickers, sov_changes, sov_sizes, sov_strips),
   group('MUNICIPALS', muni_tickers, muni_changes, muni_sizes, muni_strips),
   group('GOVERNM', govm_tickers, govm_changes, govm_sizes, govm_strips),
   group('INVERSE', fi_inv_tickers, fi_inv_changes, fi_inv_sizes, fi_inv_strips)]),
 ('STRATEGY', [215,55,35], 'c1 c1 c1', [
   group('US LARGE CAP', st_large_tickers, st_large_changes, st_large_sizes, st_large_strips),
   group('ALPHA', st_alpha_tickers, st_alpha_changes, st_alpha_sizes, st_alpha_strips),
   group(None, st_other_tickers, st_other_changes, st_other_sizes, st_other_strips)]),
 ('FOREX', [19.8,19.8,6.6], 'c1 r1 r1', [
   group(None, fx_a_tickers, fx_a_changes, fx_a_sizes, fx_a_strips),
   group(None, fx_b_tickers, fx_b_changes, fx_b_sizes, fx_b_strips),
   group(None, fx_c_tickers, fx_c_changes, fx_c_sizes, fx_c_strips)]),
]
block_sizes = [4276,5493,994,608,1138,334.5,1174.5,1006,3699,4855,424,66.4]
block_strips = 'c2 c3 r3 c1 r1 c1 c1'

for r, b in zip(split(-3.5, -1.5, 2082, 1156, block_sizes, block_strips), blocks):
    draw_block(r, b[0], b[1], b[2], b[3])

# help text at the bottom
for i, line in enumerate(help_lines):
    ax.text(31, 1189 + i * 18.5, line, color='#667394', fontsize=pt(16), ha='left', va='center_baseline')
ax.add_patch(Circle((10, 1197), 8.5, fc='#77839f', ec='none'))
ax.text(10, 1197, 'i', color=bg, fontsize=pt(15), fontweight='bold', ha='center', va='center_baseline')

# legend boxes
box_w = (2080 - 1545) / 7.0
for i, (v, lab) in enumerate(zip(legend_values, legend_labels)):
    ax.add_patch(Rectangle((1545 + i * box_w + 0.5, 1192), box_w - 1.2, 36, fc=change_color(v), ec='none', zorder=2))
    ax.text(1545 + i * box_w + box_w / 2, 1211, lab, color='white', fontsize=pt(18), ha='center', va='center_baseline',
            zorder=3, path_effects=shadow)

fig.savefig('out.png', dpi=100, facecolor=bg)
